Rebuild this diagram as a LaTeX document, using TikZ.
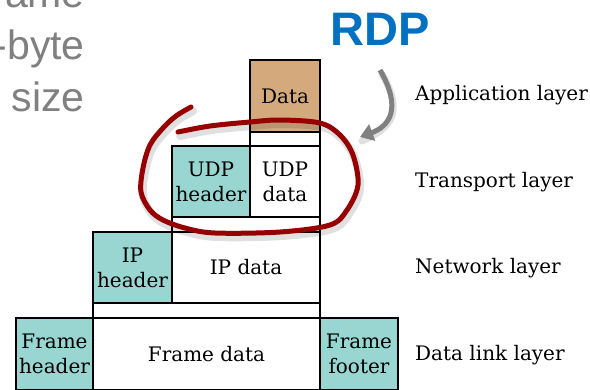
\documentclass[tikz,border=0pt]{standalone}
\usepackage{fontspec}
\setmainfont{DejaVu Serif}
\newfontfamily\arialfont{Liberation Sans}
\usetikzlibrary{arrows.meta}
\definecolor{teal1}{RGB}{153,214,210}
\definecolor{tan1}{RGB}{212,170,125}
\definecolor{loopred}{RGB}{150,0,0}
\definecolor{rdpblue}{RGB}{0,112,192}
\definecolor{greytxt}{RGB}{128,128,128}
\tikzset{
  box/.style={draw=black, line width=1.2pt, inner sep=0pt, align=center,
    font=\fontsize{20}{25}\selectfont},
  hdr/.style={box, fill=teal1},
  appbox/.style={box, fill=tan1},
  plain/.style={box, fill=white},
  layer/.style={anchor=base west, inner sep=0pt, font=\fontsize{20}{25}\selectfont},
  side/.style={anchor=base east, inner sep=0pt, text=greytxt, font=\arialfont\fontsize{41}{50}\selectfont},
}
\begin{document}
\begin{tikzpicture}[x=1pt,y=-1pt]
\useasboundingbox (0,0) rectangle (590,389);
% top-left grey text (cut off at the edge, as in the reference)
\node[side] (t1) at (85,7) {ame};
\node[side] (t2) at (85,59) {-byte};
\node[side] (t3) at (85,111) {size};
% RDP
\node[anchor=base west, inner sep=0pt, text=rdpblue, font=\arialfont\bfseries\fontsize{47}{50}\selectfont] (rdp) at (330,45) {RDP};
% application layer
\node[appbox, minimum width=70pt, minimum height=72pt] (data) at (285,96) {Data};
\node[plain, minimum width=70pt, minimum height=14pt] (s1) at (285,139) {};
% transport
\node[hdr, minimum width=78pt, minimum height=71pt] (udph) at (211,181.5) {UDP\\header};
\node[plain, minimum width=70pt, minimum height=71pt] (udpd) at (285,181.5) {UDP\\data};
\node[plain, minimum width=148pt, minimum height=15pt] (s2) at (246,224.5) {};
% network
\node[hdr, minimum width=79pt, minimum height=71pt] (iph) at (132.5,267.5) {IP\\header};
\node[plain, minimum width=148pt, minimum height=71pt] (ipd) at (246,267.5) {IP data};
\node[plain, minimum width=227pt, minimum height=15pt] (s3) at (206.5,310.5) {};
% data link
\node[hdr, minimum width=77pt, minimum height=72pt] (fh) at (54.5,354) {Frame\\header};
\node[plain, minimum width=227pt, minimum height=72pt] (fd) at (206.5,354) {Frame data};
\node[hdr, minimum width=78pt, minimum height=72pt] (ff) at (359,354) {Frame\\footer};
% layer labels
\node[layer] (l1) at (415,100) {Application layer};
\node[layer] (l2) at (415,187) {Transport layer};
\node[layer] (l3) at (415,273) {Network layer};
\node[layer] (l4) at (415,360) {Data link layer};
% grey arrow with shadow
\coordinate (a0) at (380,70);
\coordinate (a1) at (360,137);
\draw[black, opacity=0.12, line width=7pt, line cap=round] ([shift={(2,4)}]a0) .. controls (404,112) and (392,128) .. ([shift={(2,4)}]a1);
\draw[greytxt, line width=5pt, -{Triangle[length=13pt,width=17pt]}] (a0) .. controls (402,108) and (390,126) .. (a1);
% red loop with shadow
\def\looppts{(191,107) (176,116) (163,128) (150,145) (143,168) (141,192) (150,210) (163,220) (185,228) (215,233) (280,232) (330,225) (347,210) (358,185) (353,155) (340,135) (320,123) (280,120) (250,122) (210,126) (178,132)}
\begin{scope}[shift={(2,4)}]
\draw[black, opacity=0.12, line width=8pt, line cap=round] plot[smooth, tension=0.55] coordinates {\looppts};
\end{scope}
\draw[loopred, line width=5pt, line cap=round] plot[smooth, tension=0.55] coordinates {\looppts};
\end{tikzpicture}
\end{document}
